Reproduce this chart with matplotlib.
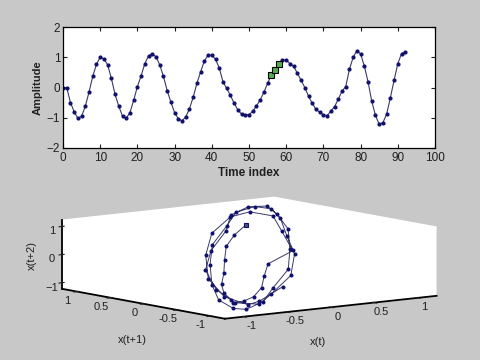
import numpy as np
import matplotlib
matplotlib.use('Agg')
import matplotlib.pyplot as plt

plt.rcParams['font.family'] = ['Liberation Sans', 'DejaVu Sans']

# amplitud, un valor por indice de tiempo (0..92)
amplitude = [0, 0, -.5, -.8, -1.02, -.95, -.62, -.15, .37, .77,
             1.0, .95, .75, .3, -.23, -.62, -.95, -1.02, -.83, -.42,
             .03, .39, .79, 1.05, 1.1, 1.02, .75, .37, -.1, -.48,
             -.83, -1.03, -1.1, -.97, -.7, -.32, .14, .52, .88, 1.07,
             1.07, .93, .65, .19, -.03, -.26, -.52, -.74, -.88, -.9,
             -.9, -.79, -.61, -.41, -.16, .14, .41, .59, .78, .9,
             .91, .79, .7, .47, .24, 0, -.29, -.52, -.72, -.82,
             -.9, -.93, -.78, -.63, -.39, -.12, .03, .6, 1.0, 1.22,
             1.11, .71, .19, -.46, -.92, -1.22, -1.16, -.88, -.34, .24,
             .79, 1.12, 1.17]
time_ticks = [0, 10, 20, 30, 40, 50, 60, 70, 80, 90, 100]
amp_ticks = [-2, -1, 0, 1, 2]
window = [56, 57, 58]
cube_ticks = [-1, 0, 1]
floor_ticks = [-1, -0.5, 0, 0.5, 1]
floor_labels = ['-1', '-0.5', '0', '0.5', '1']

BG = '#c8c8c8'
LINE = '#3a3a6a'
DOT = '#10106e'

amp = np.array(amplitude)
t = np.arange(len(amp))

fig = plt.figure(figsize=(4.8, 3.6), dpi=100, facecolor=BG)

# 2. Espacio de retardos hasta el primer punto de la ventana
k = window[0]
X, Y, Z = amp[1:k + 1], amp[2:k + 2], amp[3:k + 3]

side = 480
ax3 = fig.add_axes([(243 - side / 2) / 480, (360 - 264.5 - side / 2) / 360, side / 480, side / 360],
                   projection='3d', proj_type='ortho')
ax3.patch.set_visible(False)
ax3.view_init(elev=8.1, azim=-127.5)
ax3.set_box_aspect((1, 1, 0.26), zoom=0.776)
ax3.plot(X, Y, Z, '-', color=LINE, lw=0.7, marker='o', ms=1.9, mfc=DOT, mec=DOT)
ax3.plot(X[-1:], Y[-1:], Z[-1:], 's', ms=3.4, mfc='#505078', mec='#10106e', mew=0.8)
ax3.set_xlim(-1.22, 1.22)
ax3.set_ylim(-1.22, 1.22)
ax3.set_zlim(-1.22, 1.22)
ax3.set_xticks(floor_ticks, floor_labels)
ax3.set_yticks(floor_ticks, floor_labels)
ax3.set_zticks(cube_ticks)
ax3.grid(False)
for a in (ax3.xaxis, ax3.yaxis, ax3.zaxis):
    a.set_pane_color('white')
    a.pane.set_edgecolor('white')
    a.line.set_color('black')
    a.line.set_linewidth(1.3)
ax3.tick_params(labelsize=8, pad=0, colors='#202020')
ax3.tick_params(axis='z', pad=-3)

fig.text(318 / 480, 1 - 342 / 360, 'x(t)', fontsize=8, ha='center', va='center', color='#202020')
fig.text(132 / 480, 1 - 340 / 360, 'x(t+1)', fontsize=8, ha='center', va='center', color='#202020')
fig.text(32 / 480, 1 - 256 / 360, 'x(t+2)', fontsize=8, ha='center', va='center', rotation=90, color='#202020')

# 1. Serie de tiempo
ax = fig.add_axes([63 / 480, 1 - 148 / 360, 372 / 480, 121 / 360])
ax.plot(t, amp, '-', color=LINE, lw=0.8, marker='o', ms=2, mfc=DOT, mec=DOT)
ax.plot(t[window], amp[window], 's', ms=4.2, mfc='#50b050', mec='black', mew=0.8)
ax.set_xlim(0, 100)
ax.set_ylim(-2, 2)
ax.set_xticks(time_ticks)
ax.set_yticks(amp_ticks)
ax.tick_params(direction='in', top=True, right=True, length=3, width=0.8,
               labelsize=8.5, colors='#202020')
ax.tick_params(axis='x', pad=3)
ax.tick_params(axis='y', pad=2)
for s in ax.spines.values():
    s.set_linewidth(0.9)
ax.set_xlabel('Time index', fontsize=8.5, fontweight='bold', labelpad=2, color='#202020')
ax.set_ylabel('Amplitude', fontsize=8, fontweight='bold', labelpad=3, color='#202020')

fig.savefig('out.png', dpi=100, facecolor=BG)
